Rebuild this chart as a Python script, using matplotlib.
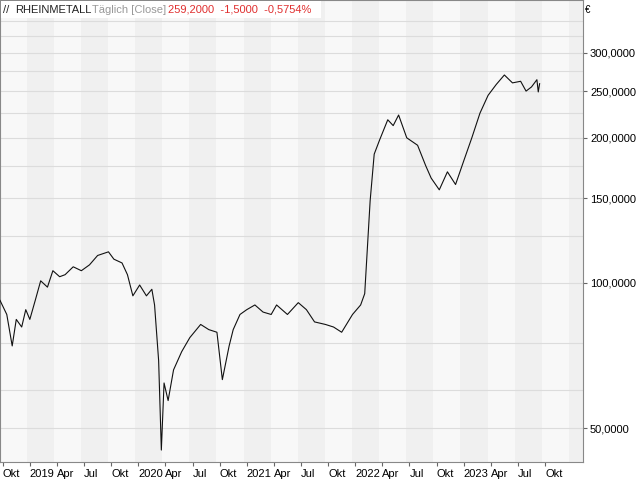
import matplotlib.pyplot as plt
import numpy as np

plt.rcParams['font.family'] = ['Liberation Sans', 'DejaVu Sans']

# time in quarters since Oct 2018, price in EUR
t = [-0.1, 0.15, 0.35, 0.5, 0.7, 0.85, 1.0, 1.2, 1.4, 1.65, 1.85, 2.1, 2.3, 2.6, 2.9, 3.2, 3.5, 3.9, 4.1, 4.4,
     4.6, 4.8, 5.05, 5.3, 5.5, 5.6, 5.75, 5.85, 5.95, 6.1, 6.3, 6.6, 6.9, 7.3, 7.6, 7.9, 8.1, 8.35, 8.5, 8.75,
     9.0, 9.3, 9.6, 9.9, 10.1, 10.5, 10.9, 11.2, 11.5, 11.9, 12.2, 12.5, 12.9, 13.2, 13.35, 13.55, 13.7, 13.9,
     14.2, 14.4, 14.6, 14.9, 15.3, 15.6, 15.8, 16.1, 16.4, 16.7, 17.0, 17.3, 17.6, 17.9, 18.2, 18.5, 18.8,
     19.1, 19.3, 19.5, 19.7, 19.75, 19.8]
p = [92, 86, 74, 84, 81, 88, 84, 92, 101, 98, 106, 103, 104, 108, 106, 109, 114, 116, 112, 110,
     104, 94, 99, 94, 97, 90, 69, 45, 62, 57, 66, 72, 77, 82, 80, 79, 63, 74, 80, 86,
     88, 90, 87, 86, 90, 86, 91, 88, 83, 82, 81, 79, 86, 90, 95, 148, 185, 198, 218, 212,
     223, 200, 193, 175, 165, 156, 170, 160, 179, 200, 225, 245, 258, 270, 260,
     262, 250, 255, 264, 249, 259]

grid_vals = [50, 60, 75, 100, 125, 150, 175, 200, 225, 250, 275, 300, 325, 350]
tick_vals = [50, 100, 150, 200, 250, 300]
xtick_pos = list(range(0, 21))
xtick_lab = ["Okt", "2019", "Apr", "Jul", "Okt", "2020", "Apr", "Jul", "Okt", "2021", "Apr", "Jul",
             "Okt", "2022", "Apr", "Jul", "Okt", "2023", "Apr", "Jul", "Okt"]

W, H = 640, 480
fig = plt.figure(figsize=(6.4, 4.8), dpi=100)
ax_h = 462
ax = fig.add_axes([0.0, 1 - ax_h / H, 583 / W, ax_h / H])
ax.set_facecolor("#f8f8f8")
ax.set_yscale("log")
ax.set_xlim(-0.1, 21.4)
# 482 px per decade, 50 at y=428
ax.set_ylim(50 * 10 ** (-(ax_h - 428) / 482), 50 * 10 ** (428 / 482))

for q in range(-1, 22, 2):
    ax.axvspan(q - 0.5 + 0.38, q + 0.5 + 0.38, color="#f0f0f0", lw=0, zorder=0)
for g in grid_vals:
    ax.axhline(g, color="#dcdcdc", lw=0.8, zorder=1)

ax.plot(t, p, color="#111111", lw=0.8, zorder=3)

ax.yaxis.tick_right()
ax.set_yticks(tick_vals)
ax.set_yticklabels([f"{v},0000" for v in tick_vals], fontsize=8)
ax.yaxis.set_minor_locator(plt.NullLocator())
ax.set_xticks(xtick_pos)
ax.set_xticklabels(xtick_lab, fontsize=8, ha="left")
ax.tick_params(axis="both", length=3, color="#666666", pad=2)
for s in ax.spines.values():
    s.set_color("#888888")

# header box
fig.patches.append(plt.Rectangle((1 / W, 1 - 18 / H), 320 / W, 17 / H, transform=fig.transFigure,
                                 facecolor="white", edgecolor="none", zorder=5))
hy = 1 - 10 / H
fig.text(585 / W, 1 - 10 / H, "€", fontsize=7, va="center")
fig.text(3 / W, hy, "//", fontsize=8, va="center", color="#222222", zorder=6)
fig.text(15 / W, hy, "RHEINMETALL", fontsize=8, va="center", color="#222222", zorder=6)
fig.text(92 / W, hy, "Täglich [Close]", fontsize=8, va="center", color="#999999", zorder=6)
fig.text(168 / W, hy, "259,2000  -1,5000  -0,5754%", fontsize=8, va="center", color="#e03030", zorder=6)

fig.savefig("out.png", dpi=100)
